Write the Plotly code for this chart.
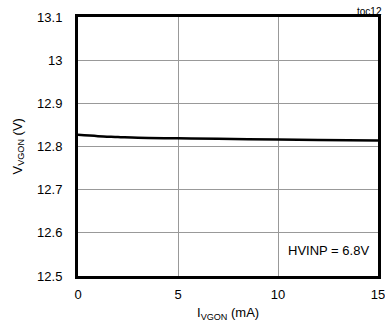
import plotly.graph_objects as go

i_vgon = [0, 1, 2, 3, 5, 7, 10, 12, 15]
v_vgon = [12.827, 12.824, 12.822, 12.820, 12.819, 12.818, 12.816, 12.815, 12.814]
x_ticks = [0, 5, 10, 15]
y_ticks = [12.5, 12.6, 12.7, 12.8, 12.9, 13.0, 13.1]
y_tick_text = ["12.5", "12.6", "12.7", "12.8", "12.9", "13", "13.1"]

fnt = "Liberation Sans, Arial, sans-serif"

fig = go.Figure()
fig.add_trace(go.Scatter(x=i_vgon, y=v_vgon, mode="lines",
                         line=dict(color="black", width=2.5, shape="spline"),
                         showlegend=False))

fig.update_layout(
    width=385, height=323,
    margin=dict(l=78, r=7, t=17, b=47, autoexpand=False),
    paper_bgcolor="white", plot_bgcolor="white",
    font=dict(family=fnt, size=13, color="black"),
)
fig.update_xaxes(range=[0, 15], tickvals=x_ticks, ticks="", showline=True,
                 linecolor="black", linewidth=3, mirror=True, automargin=False,
                 showgrid=True, gridcolor="#999", gridwidth=1, zeroline=False,
                 tickfont=dict(size=13), ticklabelstandoff=4, ticklabeloverflow="allow")
fig.update_yaxes(range=[12.5, 13.1], tickvals=y_ticks, ticktext=y_tick_text, ticks="",
                 showline=True, linecolor="black", linewidth=3, mirror=True, automargin=False,
                 showgrid=True, gridcolor="#999", gridwidth=1, zeroline=False,
                 tickfont=dict(size=13), ticklabelstandoff=10, ticklabeloverflow="allow")

fig.add_annotation(x=0.5, y=-0.143, xref="paper", yref="paper",
                   text="I<sub>VGON</sub> (mA)", showarrow=False,
                   xanchor="center", yanchor="middle", font=dict(size=13))
fig.add_annotation(x=-0.2, y=0.5, xref="paper", yref="paper",
                   text="V<sub>VGON</sub> (V)", showarrow=False, textangle=-90,
                   xanchor="center", yanchor="middle", font=dict(size=13))

fig.add_annotation(x=12.5, y=12.56, xref="x", yref="y", text="HVINP = 6.8V",
                   showarrow=False, font=dict(size=13), bgcolor="white")
fig.add_annotation(x=1.017, y=1.0, xref="paper", yref="paper", text="toc12",
                   showarrow=False, xanchor="right", yanchor="bottom",
                   font=dict(size=10), yshift=-1, borderpad=0)
fig.add_annotation(x=0.30, y=1.054, xref="paper", yref="paper", text="<b>ON</b>",
                   showarrow=False, xanchor="center", yanchor="bottom",
                   font=dict(size=11))

fig.write_html("out.html", config={"displayModeBar": False},
               post_script="document.body.style.margin='0';document.body.style.overflow='hidden';")
